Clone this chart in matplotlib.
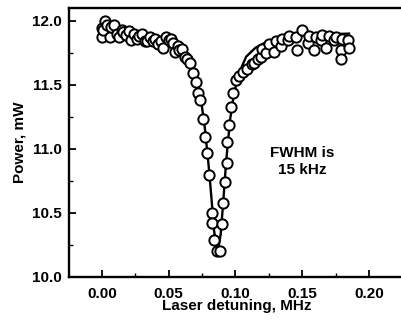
import matplotlib
matplotlib.use("Agg")
import matplotlib.pyplot as plt
from matplotlib.ticker import MultipleLocator

# measured points (MHz, mW)
x_data = [0.000, 0.000, 0.002, 0.001, 0.004, 0.006, 0.007, 0.009, 0.011, 0.013,
          0.015, 0.016, 0.018, 0.020, 0.022, 0.024, 0.026, 0.028, 0.030, 0.032,
          0.034, 0.036, 0.038, 0.040, 0.042, 0.044, 0.046, 0.048, 0.050, 0.052,
          0.053, 0.055, 0.057, 0.058, 0.060, 0.062, 0.064, 0.0657, 0.068, 0.0705,
          0.0716, 0.0731, 0.0754, 0.0769, 0.0784, 0.0799, 0.0821, 0.0828, 0.0836, 0.0862,
          0.0881, 0.0896, 0.0903, 0.0918, 0.0933, 0.0940, 0.0955, 0.0970, 0.0978, 0.1007,
          0.103, 0.106, 0.109, 0.112, 0.114, 0.117, 0.119, 0.120, 0.123, 0.125,
          0.129, 0.130, 0.134, 0.135, 0.139, 0.140, 0.145, 0.146, 0.150, 0.154,
          0.155, 0.159, 0.160, 0.164, 0.165, 0.168, 0.170, 0.174, 0.175, 0.179,
          0.179, 0.180, 0.184, 0.185]
y_data = [11.87, 11.94, 12.00, 11.93, 11.97, 11.87, 11.95, 11.97, 11.90, 11.875,
          11.93, 11.91, 11.89, 11.92, 11.85, 11.90, 11.86, 11.88, 11.90, 11.84,
          11.84, 11.87, 11.84, 11.86, 11.82, 11.84, 11.79, 11.87, 11.85, 11.86,
          11.83, 11.76, 11.80, 11.77, 11.78, 11.72, 11.70, 11.67, 11.59, 11.52,
          11.44, 11.38, 11.23, 11.09, 10.97, 10.80, 10.50, 10.42, 10.29, 10.20,
          10.20, 10.41, 10.58, 10.74, 10.89, 11.05, 11.19, 11.33, 11.44, 11.54,
          11.57, 11.60, 11.62, 11.66, 11.67, 11.70, 11.72, 11.78, 11.75, 11.82,
          11.76, 11.84, 11.80, 11.86, 11.85, 11.88, 11.87, 11.77, 11.93, 11.83,
          11.88, 11.77, 11.87, 11.85, 11.89, 11.79, 11.88, 11.85, 11.87, 11.77,
          11.70, 11.86, 11.85, 11.79]

# fitted curve
x_fit = [0.000, 0.020, 0.040, 0.050, 0.060, 0.065, 0.070, 0.074, 0.077, 0.080,
         0.082, 0.084, 0.0866, 0.089, 0.091, 0.093, 0.096, 0.099, 0.103, 0.108,
         0.115, 0.125, 0.140, 0.160, 0.185]
y_fit = [11.90, 11.89, 11.865, 11.84, 11.78, 11.72, 11.61, 11.40, 11.17, 10.86,
         10.62, 10.36, 10.18, 10.34, 10.61, 10.90, 11.23, 11.44, 11.60, 11.72,
         11.79, 11.845, 11.876, 11.892, 11.90]

font = "Liberation Sans"
plt.rcParams["font.family"] = [font, "DejaVu Sans"]
plt.rcParams["font.weight"] = "bold"

fig = plt.figure(figsize=(4.01, 3.20), dpi=100)
ax = fig.add_axes([69 / 401, 1 - 277 / 320, 1 - 69 / 401 + 0.01, (277 - 8) / 320])

ax.plot(x_fit, y_fit, color="black", lw=1.7, zorder=2)
ax.plot(x_data, y_data, linestyle="none", marker="o", ms=7.4, mfc="white",
        mec="black", mew=1.4, zorder=3)

ax.set_xlim(-0.0246, 0.2232 + 0.0037)
ax.set_ylim(10.0, 12.10)
ax.xaxis.set_major_locator(MultipleLocator(0.05))
ax.xaxis.set_minor_locator(MultipleLocator(0.025))
ax.yaxis.set_major_locator(MultipleLocator(0.5))
ax.yaxis.set_minor_locator(MultipleLocator(0.25))
ax.xaxis.set_major_formatter(plt.FormatStrFormatter("%.2f"))
ax.yaxis.set_major_formatter(plt.FormatStrFormatter("%.1f"))
ax.tick_params(which="major", direction="in", length=5, width=1.3, labelsize=11)
ax.tick_params(which="minor", direction="in", length=3, width=1.0)
ax.tick_params(axis="x", pad=7)
ax.tick_params(axis="y", pad=5)
for s in ["left", "bottom", "top"]:
    ax.spines[s].set_linewidth(1.7)
ax.spines["right"].set_visible(False)

ax.set_xlabel("Laser detuning, MHz", fontsize=11, fontweight="bold", labelpad=-1)
ax.set_ylabel("Power, mW", fontsize=11, fontweight="bold", labelpad=4)
ax.text(0.150, 10.9, "FWHM is\n15 kHz", ha="center", va="center", fontsize=11,
        fontweight="bold", linespacing=1.3)

fig.savefig("out.png", dpi=100)
